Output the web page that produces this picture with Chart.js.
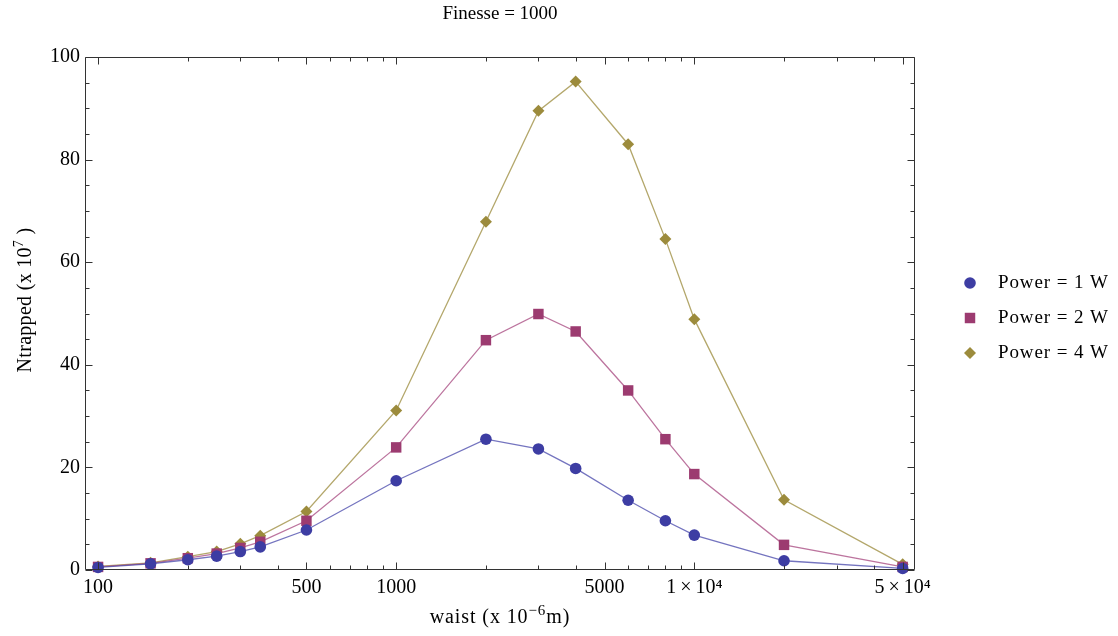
<!DOCTYPE html>
<html>
<head>
<meta charset="utf-8">
<script src="https://cdn.jsdelivr.net/npm/chart.js@4.4.1/dist/chart.umd.min.js"></script>
<style>
  html, body { margin: 0; padding: 0; background: #fff; }
  #wrap { width: 1118px; height: 636px; }
</style>
</head>
<body>
<div id="wrap"><canvas id="c" width="1118" height="636"></canvas></div>
<script>
const waist   = [100, 150, 200, 250, 300, 350, 500, 1000, 2000, 3000, 4000, 6000, 8000, 10000, 20000, 50000];
const power1W = [0.5, 1.2, 2.0, 2.7, 3.6, 4.5, 7.8, 17.4, 25.5, 23.6, 19.8, 13.6, 9.6, 6.8, 1.8, 0.3];
const power2W = [0.6, 1.3, 2.3, 3.2, 4.3, 5.5, 9.6, 23.9, 44.8, 49.9, 46.5, 35.0, 25.5, 18.7, 4.9, 0.6];
const power4W = [0.7, 1.4, 2.6, 3.6, 5.1, 6.7, 11.4, 31.1, 67.9, 89.5, 95.2, 83.0, 64.5, 48.9, 13.7, 1.1];
const seriesLabels = ['Power = 1 W', 'Power = 2 W', 'Power = 4 W'];

const xTickValues = [100, 500, 1000, 5000, 10000, 50000];
const xTickLabels = ['100', '500', '1000', '5000', '1\u2009×\u200910⁴', '5\u2009×\u200910⁴'];
const xMinorTicks = [200, 300, 400, 600, 700, 800, 900, 2000, 3000, 4000, 6000, 7000, 8000, 9000, 20000, 30000, 40000];
const yTickValues = [0, 20, 40, 60, 80, 100];
const yMinorTicks = [5, 10, 15, 25, 30, 35, 45, 50, 55, 65, 70, 75, 85, 90, 95];

const chartTitle = 'Finesse = 1000';
const xTitleParts = ['waist (x 10', '−6', 'm)'];
const yTitleParts = ['Ntrapped (x 10', '7', ' )'];

const FONT = 'Liberation Serif';
const markerColors = ['#3d3da3', '#9c3b70', '#9c8b3c'];
const lineColors = ['rgba(70,70,170,0.75)', 'rgba(165,70,125,0.75)', 'rgba(160,145,70,0.8)'];
const pointStyles = ['circle', 'rect', 'rectRot'];
const pointRadii = [5.8, 7.4, 6.0];

function pts(vals) { return waist.map((w, i) => ({ x: w, y: vals[i] })); }
const seriesValues = [power1W, power2W, power4W];

const datasets = seriesValues.map((vals, i) => ({
  label: seriesLabels[i],
  data: pts(vals),
  showLine: true,
  borderColor: lineColors[i],
  borderWidth: 1.3,
  backgroundColor: markerColors[i],
  pointBackgroundColor: markerColors[i],
  pointBorderWidth: 0,
  pointRadius: pointRadii[i],
  pointStyle: pointStyles[i],
  tension: 0,
  clip: false
}));

// draws [base, superscript, base] text centred at (0,0) in current transform
function drawRich(ctx, parts, size, supSize, rise, spacing) {
  ctx.textBaseline = 'middle';
  ctx.textAlign = 'left';
  try { ctx.letterSpacing = spacing + 'px'; } catch (e) {}
  const fonts = [size + 'px "' + FONT + '"', supSize + 'px "' + FONT + '"', size + 'px "' + FONT + '"'];
  const widths = parts.map((t, i) => { ctx.font = fonts[i]; return ctx.measureText(t).width; });
  const total = widths.reduce((a, b) => a + b, 0);
  let xx = -total / 2;
  parts.forEach((t, i) => {
    ctx.font = fonts[i];
    ctx.fillText(t, xx, i === 1 ? -rise : 0);
    xx += widths[i];
  });
}

const framePlugin = {
  id: 'frame',
  afterDraw(chart) {
    const { ctx, chartArea: a, scales: { x, y } } = chart;
    ctx.save();
    ctx.strokeStyle = '#333';
    ctx.lineWidth = 1;
    const L = Math.round(a.left) + 0.5, R = Math.round(a.right) - 0.5;
    const T = Math.round(a.top) + 0.5, B = Math.round(a.bottom) - 0.5;
    ctx.beginPath();
    ctx.rect(L, T, R - L, B - T);
    ctx.stroke();
    function seg(x1, y1, x2, y2) { ctx.beginPath(); ctx.moveTo(x1, y1); ctx.lineTo(x2, y2); ctx.stroke(); }
    xTickValues.forEach(v => { const p = Math.round(x.getPixelForValue(v)) + 0.5; seg(p, B, p, B - 7); seg(p, T, p, T + 7); });
    xMinorTicks.forEach(v => { const p = Math.round(x.getPixelForValue(v)) + 0.5; seg(p, B, p, B - 4); seg(p, T, p, T + 4); });
    yTickValues.forEach(v => { const p = Math.round(y.getPixelForValue(v)) + 0.5; seg(L, p, L + 7, p); seg(R, p, R - 7, p); });
    yMinorTicks.forEach(v => { const p = Math.round(y.getPixelForValue(v)) + 0.5; seg(L, p, L + 4, p); seg(R, p, R - 4, p); });

    ctx.fillStyle = '#000';
    // chart title
    ctx.font = '19px "' + FONT + '"';
    ctx.textAlign = 'center';
    ctx.textBaseline = 'middle';
    ctx.fillText(chartTitle, (a.left + a.right) / 2, 14);

    // x axis title
    ctx.save();
    ctx.translate((a.left + a.right) / 2, 618);
    drawRich(ctx, xTitleParts, 20, 15, 7, 0.9);
    ctx.restore();

    // y axis title
    ctx.save();
    ctx.translate(26, 300);
    ctx.rotate(-Math.PI / 2);
    drawRich(ctx, yTitleParts, 20, 14, 7, 0.3);
    ctx.restore();

    // legend
    const lx = 970, ly = [283, 318, 353];
    seriesLabels.forEach((lab, i) => {
      ctx.fillStyle = markerColors[i];
      Chart.helpers.drawPoint(ctx, { pointStyle: pointStyles[i], radius: pointRadii[i], rotation: 0, borderWidth: 0 }, lx, ly[i]);
      ctx.fillStyle = '#000';
      ctx.font = '19px "' + FONT + '"';
      ctx.textAlign = 'left';
      ctx.textBaseline = 'middle';
      try { ctx.letterSpacing = '0.9px'; } catch (e) {}
      ctx.fillText(lab, 998, ly[i]);
      try { ctx.letterSpacing = '0px'; } catch (e) {}
    });
    ctx.restore();
  }
};

new Chart(document.getElementById('c'), {
  type: 'scatter',
  data: { datasets },
  options: {
    responsive: false,
    animation: false,
    layout: { padding: { top: 57, right: 203, bottom: 0, left: 0 } },
    plugins: {
      legend: { display: false },
      tooltip: { enabled: false },
      title: { display: false }
    },
    scales: {
      x: {
        type: 'logarithmic',
        min: 90.4,
        max: 55000,
        afterBuildTicks: s => { s.ticks = xTickValues.map(v => ({ value: v })); },
        afterFit: s => { s.height = 66; },
        grid: { display: false, drawTicks: false },
        border: { display: false },
        ticks: {
          autoSkip: false, maxRotation: 0, minRotation: 0,
          color: '#000',
          font: { family: FONT, size: 20 },
          padding: 6,
          callback: (v, i) => xTickLabels[i]
        },
        title: { display: false }
      },
      y: {
        min: 0,
        max: 100,
        afterBuildTicks: s => { s.ticks = yTickValues.map(v => ({ value: v })); },
        afterFit: s => { s.width = 85; },
        grid: { display: false, drawTicks: false },
        border: { display: false },
        ticks: {
          color: '#000',
          font: { family: FONT, size: 20 },
          padding: 5
        },
        title: { display: false }
      }
    }
  },
  plugins: [framePlugin]
});
</script>
</body>
</html>
